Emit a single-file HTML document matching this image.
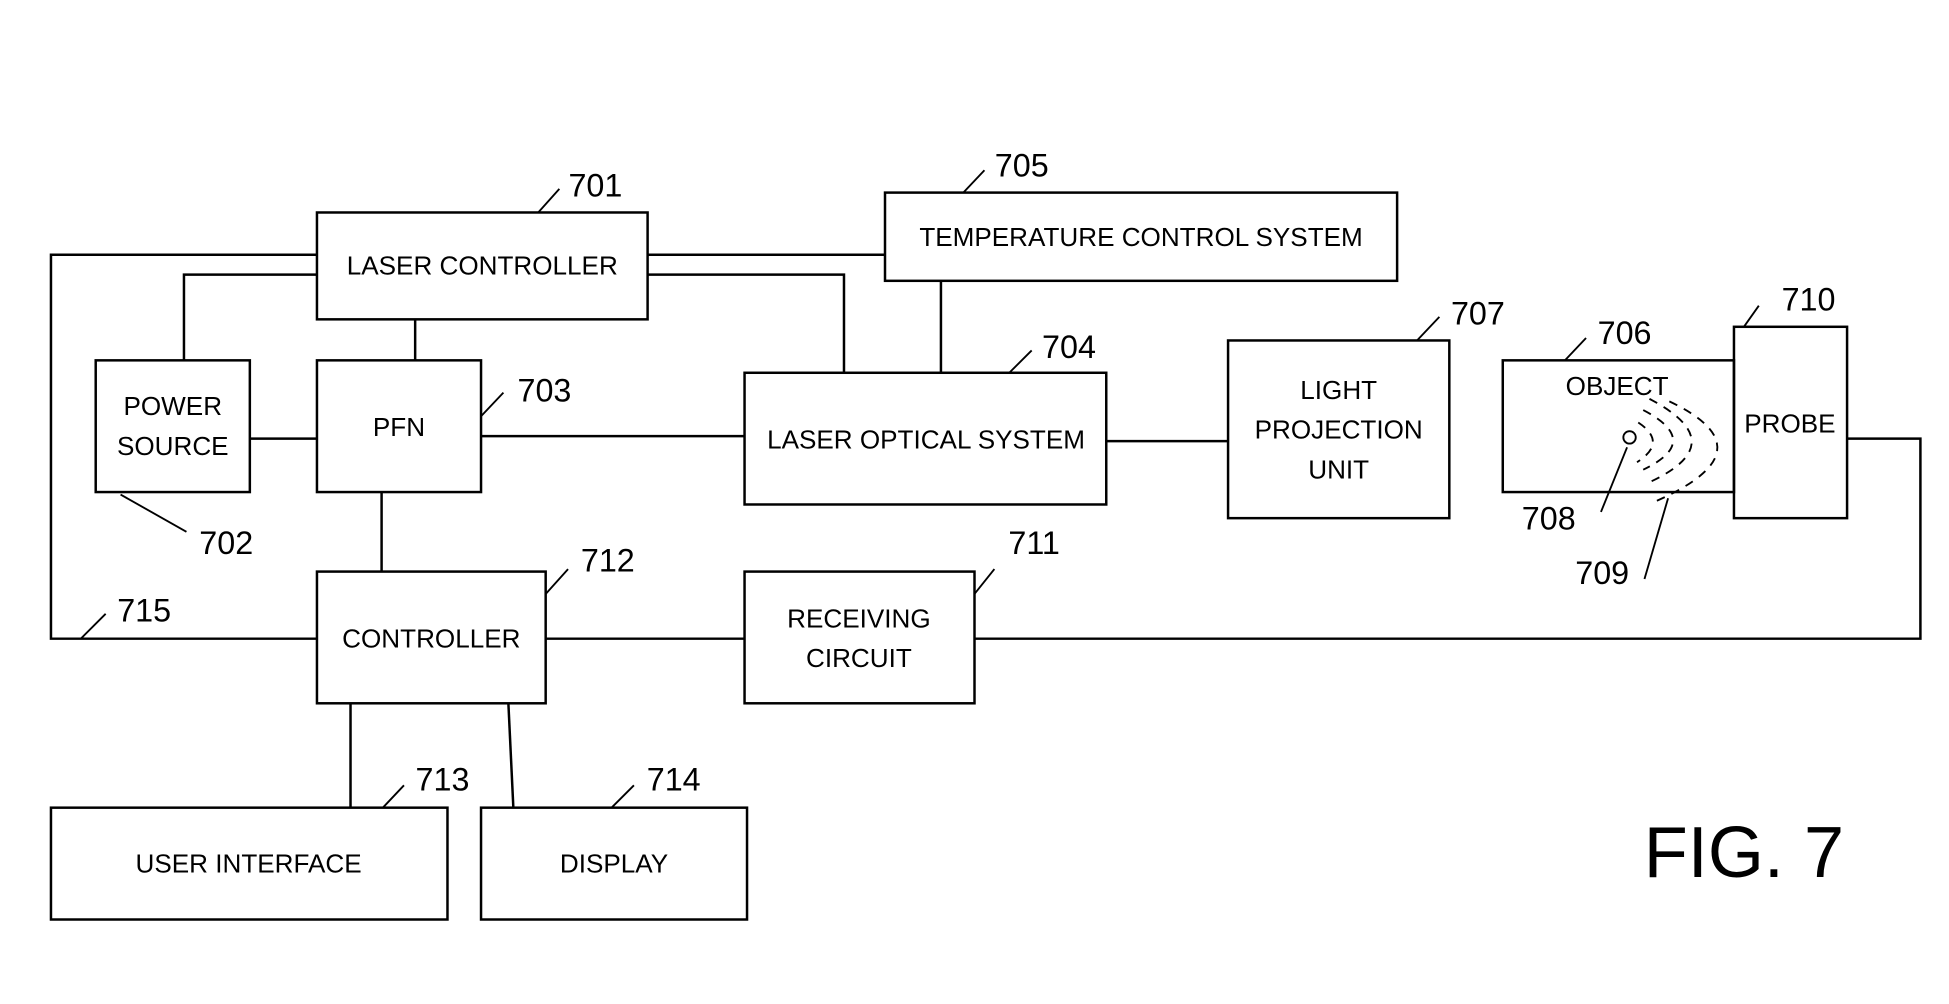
<!DOCTYPE html>
<html><head><style>html,body{margin:0;padding:0;background:#fff}svg{display:block}</style></head><body>
<svg width="1949" height="1004" viewBox="0 0 1568 808" preserveAspectRatio="none" xmlns="http://www.w3.org/2000/svg">
<g fill="none" stroke="#000" stroke-width="2">
<rect x="255" y="171" width="266" height="86"/>
<rect x="712" y="155" width="412" height="71"/>
<rect x="77" y="290" width="124" height="106"/>
<rect x="255" y="290" width="132" height="106"/>
<rect x="599" y="300" width="291" height="106"/>
<rect x="988" y="274" width="178" height="143"/>
<rect x="1209" y="290" width="186" height="106"/>
<rect x="1395" y="263" width="91" height="154"/>
<rect x="255" y="460" width="184" height="106"/>
<rect x="599" y="460" width="185" height="106"/>
<rect x="41" y="650" width="319" height="90"/>
<rect x="387" y="650" width="214" height="90"/>
<polyline points="255,205 41,205 41,514 255,514"/>
<line x1="439" y1="514" x2="599" y2="514"/>
<polyline points="784,514 1545,514 1545,353 1486,353"/>
<polyline points="255,221 148,221 148,290"/>
<line x1="334" y1="257" x2="334" y2="290"/>
<line x1="521" y1="205" x2="712" y2="205"/>
<polyline points="521,221 679,221 679,300"/>
<line x1="757" y1="226" x2="757" y2="300"/>
<line x1="201" y1="353" x2="255" y2="353"/>
<line x1="387" y1="351" x2="599" y2="351"/>
<line x1="890" y1="355" x2="988" y2="355"/>
<line x1="307" y1="396" x2="307" y2="460"/>
<line x1="282" y1="566" x2="282" y2="650"/>
<line x1="409" y1="566" x2="413" y2="650"/>
<g stroke-width="1.5">
<line x1="433" y1="171" x2="450" y2="152"/>
<line x1="775" y1="155" x2="792" y2="137"/>
<line x1="97" y1="398" x2="150" y2="428"/>
<line x1="387" y1="335" x2="405" y2="316"/>
<line x1="812" y1="300" x2="830" y2="282"/>
<line x1="1140" y1="274" x2="1158" y2="255"/>
<line x1="1259" y1="290" x2="1276" y2="272"/>
<line x1="1403" y1="263" x2="1415" y2="246"/>
<line x1="1309" y1="360" x2="1288" y2="412"/>
<line x1="1342" y1="401" x2="1323" y2="466"/>
<line x1="439" y1="478" x2="457" y2="458"/>
<line x1="784" y1="478" x2="800" y2="458"/>
<line x1="65" y1="514" x2="85" y2="494"/>
<line x1="308" y1="650" x2="325" y2="632"/>
<line x1="492" y1="650" x2="510" y2="632"/>
<circle cx="1311" cy="352" r="5"/>
<g stroke-dasharray="7,6">
<path d="M1318,340 Q1342,356 1317,372"/>
<path d="M1322,330 Q1370,355 1322,378"/>
<path d="M1327,321 Q1396,357 1325,389"/>
<path d="M1343,323 Q1425,362 1333,403"/>
</g>
</g>
</g>
<g font-family="Liberation Sans, sans-serif" font-size="21" text-anchor="middle" fill="#000">
<text x="388" y="221">LASER CONTROLLER</text>
<text x="918" y="198">TEMPERATURE CONTROL SYSTEM</text>
<text x="139" y="334">POWER</text><text x="139" y="366">SOURCE</text>
<text x="321" y="351">PFN</text>
<text x="745" y="361">LASER OPTICAL SYSTEM</text>
<text x="1077" y="321">LIGHT</text><text x="1077" y="353">PROJECTION</text><text x="1077" y="385">UNIT</text>
<text x="1301" y="318">OBJECT</text>
<text x="1440" y="348">PROBE</text>
<text x="347" y="521">CONTROLLER</text>
<text x="691" y="505">RECEIVING</text><text x="691" y="537">CIRCUIT</text>
<text x="200" y="702">USER INTERFACE</text>
<text x="494" y="702">DISPLAY</text>
</g>
<g font-family="Liberation Sans, sans-serif" font-size="26" text-anchor="middle" fill="#000">
<text x="479" y="158">701</text><text x="822" y="142">705</text>
<text x="182" y="446">702</text><text x="438" y="323">703</text>
<text x="860" y="288">704</text><text x="1189" y="261">707</text>
<text x="1307" y="277">706</text><text x="1455" y="250">710</text>
<text x="1246" y="426">708</text><text x="1289" y="470">709</text>
<text x="489" y="460">712</text><text x="832" y="446">711</text>
<text x="116" y="500">715</text><text x="356" y="636">713</text>
<text x="542" y="636">714</text>
</g>
<text x="1403" y="706" font-family="Liberation Sans, sans-serif" font-size="58" text-anchor="middle">FIG. 7</text>
</svg>
</body></html>
